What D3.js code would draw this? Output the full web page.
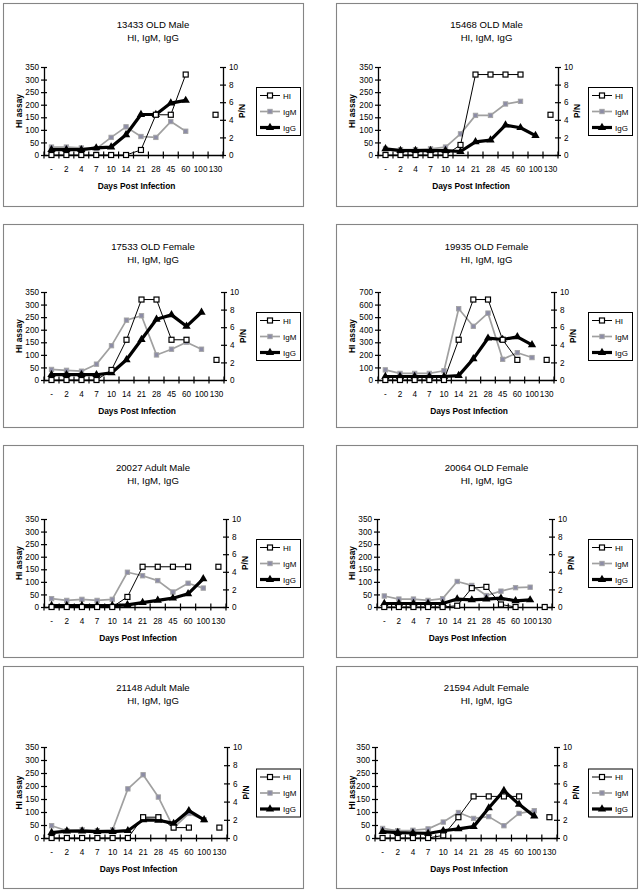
<!DOCTYPE html>
<html><head><meta charset="utf-8">
<script src="https://cdn.jsdelivr.net/npm/d3@7"></script>
<style>body{margin:0;background:#fff} svg{display:block}</style>
</head><body><svg id="c" width="641" height="893"></svg>
<script>
// ---------- DATA ----------
const categories = ["-","2","4","7","10","14","21","28","45","60","100","130"];
const titles = ["13433 OLD Male","15468 OLD Male","17533 OLD Female","19935 OLD Female",
                "20027 Adult Male","20064 OLD Female","21148 Adult Male","21594 Adult Female"];
const subtitle = "HI, IgM, IgG";
const seriesNames = ["HI","IgM","IgG"];
const hiMax = [350,350,350,700,350,350,350,350];
const hiStep = [50,50,50,100,50,50,50,50];
const pnTicks = [0,2,4,6,8,10];
// HI titres (left axis, HI assay)
const hiValues = [
  [0,0,0,0,0,0,20,160,160,320,null,160],
  [0,0,0,0,0,40,320,320,320,320,null,160],
  [0,0,0,0,40,160,320,320,160,160,null,80],
  [0,0,0,0,0,320,640,640,320,160,null,160],
  [0,0,0,0,0,40,160,160,160,160,null,160],
  [0,0,0,0,0,5,75,80,10,0,null,0],
  [0,0,0,0,0,0,80,80,40,40,null,40],
  [0,0,0,0,10,80,160,160,160,160,null,80]
];
// IgM P/N (right axis)
const igmValues = [
  [0.9,0.9,0.8,0.7,2.0,3.2,2.1,2.0,3.8,2.7,null,null],
  [0.7,0.6,0.6,0.7,0.9,2.4,4.5,4.5,5.8,6.1,null,null],
  [1.2,1.1,1.0,1.8,3.9,6.8,7.3,2.85,3.5,4.3,3.5,null],
  [1.15,0.75,0.75,0.75,1.05,8.1,6.1,7.6,2.35,3.1,2.55,null],
  [0.95,0.75,0.87,0.75,0.87,3.95,3.55,3.0,1.7,2.7,2.15,null],
  [1.25,0.9,0.9,0.75,0.95,2.9,2.45,1.3,1.8,2.2,2.25,null],
  [1.35,0.8,0.9,0.8,0.9,5.4,6.95,4.5,1.1,2.7,2.0,null],
  [1.05,0.8,0.85,1.0,1.75,2.8,2.15,2.35,1.35,2.7,3.0,null]
];
// IgG P/N (right axis)
const iggValues = [
  [0.6,0.6,0.6,0.8,0.9,2.3,4.6,4.6,5.9,6.2,null,null],
  [0.7,0.5,0.5,0.5,0.5,0.4,1.5,1.7,3.4,3.1,2.2,null],
  [0.6,0.6,0.6,0.6,0.8,2.3,4.6,6.9,7.4,6.1,7.7,null],
  [0.4,0.4,0.4,0.4,0.4,0.5,2.4,4.75,4.6,4.9,4.0,null],
  [0.15,0.15,0.15,0.15,0.15,0.25,0.5,0.75,1.0,1.5,3.2,null],
  [0.4,0.4,0.4,0.4,0.4,0.9,0.8,0.9,1.0,0.7,0.8,null],
  [0.6,0.75,0.75,0.7,0.7,0.8,2.0,1.95,1.6,3.0,2.0,null],
  [0.7,0.6,0.55,0.5,0.8,1.0,1.25,3.3,5.2,3.7,2.4,null]
];

// ---------- LAYOUT ----------
const rows = [
  {boxTop:3,   boxBottom:206, titleY:25,  plotTop:67,  plotBottom:155},
  {boxTop:224, boxBottom:427, titleY:247, plotTop:292, plotBottom:380},
  {boxTop:445, boxBottom:657, titleY:468, plotTop:519, plotBottom:607},
  {boxTop:666, boxBottom:888, titleY:688, plotTop:747, plotBottom:838}
];
const cols = [
  {boxLeft:3,   boxRight:303, legendX:256},
  {boxLeft:336, boxRight:637, legendX:588}
];
const plotLefts  = [44,378,44,378,44,377,44,375];
const plotRights = [223,558,224,554,226,552,227,557];
const FONT = "'Liberation Sans', Arial, Helvetica, sans-serif";

const svg = d3.select("#c").style("font-family", FONT);

function drawMarker(sel, type) {
  if (type === "HI") {
    sel.append("rect").attr("x",-2.5).attr("y",-2.5).attr("width",5).attr("height",5)
      .attr("fill","#fff").attr("stroke","#000").attr("stroke-width",1.2);
  } else if (type === "IgM") {
    sel.append("rect").attr("x",-2.2).attr("y",-2.2).attr("width",4.4).attr("height",4.4)
      .attr("fill","#8d8da6").attr("stroke","#a4a4a4").attr("stroke-width",0.9);
  } else {
    sel.append("path").attr("d", d3.symbol().type(d3.symbolTriangle).size(30)())
      .attr("fill","#000");
  }
}
const lineStyle = {
  HI:  {stroke:"#000", width:1},
  IgM: {stroke:"#a0a0a0", width:1.7},
  IgG: {stroke:"#000", width:3.2}
};

titles.forEach((title, i) => {
  const r = rows[Math.floor(i/2)], c = cols[i%2];
  const pl = plotLefts[i], pr = plotRights[i];
  const pt = r.plotTop, pb = r.plotBottom;
  const g = svg.append("g");

  g.append("rect").attr("x",c.boxLeft+0.5).attr("y",r.boxTop+0.5)
    .attr("width",c.boxRight-c.boxLeft).attr("height",r.boxBottom-r.boxTop)
    .attr("fill","#fff").attr("stroke","#858585").attr("stroke-width",1.1);

  const cx = (c.boxLeft + c.boxRight)/2;
  g.append("text").attr("x",cx).attr("y",r.titleY+3.4).attr("text-anchor","middle")
    .attr("font-size",9.6).text(title);
  g.append("text").attr("x",cx).attr("y",r.titleY+16.4).attr("text-anchor","middle")
    .attr("font-size",9.6).text(subtitle);

  const x = d3.scaleBand().domain(categories).range([pl, pr]);
  const yL = d3.scaleLinear().domain([0, hiMax[i]]).range([pb, pt]);
  const yR = d3.scaleLinear().domain([0, 10]).range([pb, pt]);

  // left axis
  const la = g.append("g").attr("transform",`translate(${pl},0)`)
    .call(d3.axisLeft(yL).tickValues(d3.range(0, hiMax[i]+1, hiStep[i])).tickSize(3).tickPadding(2).tickSizeOuter(0));
  la.selectAll(".tick line").attr("x1",-3).attr("x2",3);
  // right axis
  const ra = g.append("g").attr("transform",`translate(${pr},0)`)
    .call(d3.axisRight(yR).tickValues(pnTicks).tickSize(3).tickPadding(3).tickSizeOuter(0));
  ra.selectAll(".tick line").attr("x1",-3).attr("x2",3);
  // bottom axis
  const ba = g.append("g").attr("transform",`translate(0,${pb})`)
    .call(d3.axisBottom(x).tickSize(0).tickPadding(11).tickSizeOuter(0));
  ba.selectAll(".tick line").remove();
  const bounds = d3.range(categories.length+1).map(k => x.range()[0] + k*x.step());
  ba.selectAll("line.sep").data(bounds).join("line").attr("class","sep")
    .attr("x1",d=>d).attr("x2",d=>d).attr("y1",-3.5).attr("y2",3.5)
    .attr("stroke","#000").attr("stroke-width",1.2);

  [la, ra, ba].forEach(a => {
    a.select(".domain").attr("stroke","#000").attr("stroke-width",1.3);
    a.selectAll(".tick line").attr("stroke","#000").attr("stroke-width",1.2);
    a.selectAll("text").attr("font-size",8.2).attr("fill","#000").attr("font-family",FONT);
  });

  // axis titles
  g.append("text").attr("transform",`translate(${c.boxLeft+19},${(pt+pb)/2}) rotate(-90)`)
    .attr("text-anchor","middle").attr("font-size",8.4).attr("font-weight","bold").text("HI assay");
  g.append("text").attr("transform",`translate(${pr+22},${(pt+pb)/2}) rotate(-90)`)
    .attr("text-anchor","middle").attr("font-size",8.4).attr("font-weight","bold").text("P/N");
  g.append("text").attr("x",(pl+pr)/2+3).attr("y",pb+34).attr("text-anchor","middle")
    .attr("font-size",8.4).attr("font-weight","bold").text("Days Post Infection");

  // series
  const series = [
    {name:"IgM", vals:igmValues[i], y:yR},
    {name:"IgG", vals:iggValues[i], y:yR},
    {name:"HI",  vals:hiValues[i],  y:yL}
  ];
  series.forEach(s => {
    const pts = categories.map((cat,k) => ({cat, v:s.vals[k]}));
    const line = d3.line().defined(d => d.v != null)
      .x(d => x(d.cat) + x.bandwidth()/2).y(d => s.y(d.v));
    g.append("path").datum(pts).attr("d", line).attr("fill","none")
      .attr("stroke", lineStyle[s.name].stroke).attr("stroke-width", lineStyle[s.name].width)
      .attr("stroke-linejoin","round");
    g.selectAll(null).data(pts.filter(d => d.v != null)).join("g")
      .attr("transform", d => `translate(${x(d.cat)+x.bandwidth()/2},${s.y(d.v)})`)
      .each(function(){ drawMarker(d3.select(this), s.name); });
  });

  // legend
  const lx = c.legendX, lcy = (pt+pb)/2;
  const lh = 48;
  g.append("rect").attr("x",lx+0.5).attr("y",lcy-lh/2+0.5).attr("width",44).attr("height",lh)
    .attr("fill","#fff").attr("stroke","#000").attr("stroke-width",1);
  seriesNames.forEach((nm, k) => {
    const yy = lcy - 15.5 + k*16;
    g.append("line").attr("x1",lx+4).attr("x2",lx+24).attr("y1",yy).attr("y2",yy)
      .attr("stroke", lineStyle[nm].stroke).attr("stroke-width", lineStyle[nm].width);
    drawMarker(g.append("g").attr("transform",`translate(${lx+14},${yy})`), nm);
    g.append("text").attr("x",lx+27).attr("y",yy+3).attr("font-size",8).text(nm);
  });
});
</script></body></html>
